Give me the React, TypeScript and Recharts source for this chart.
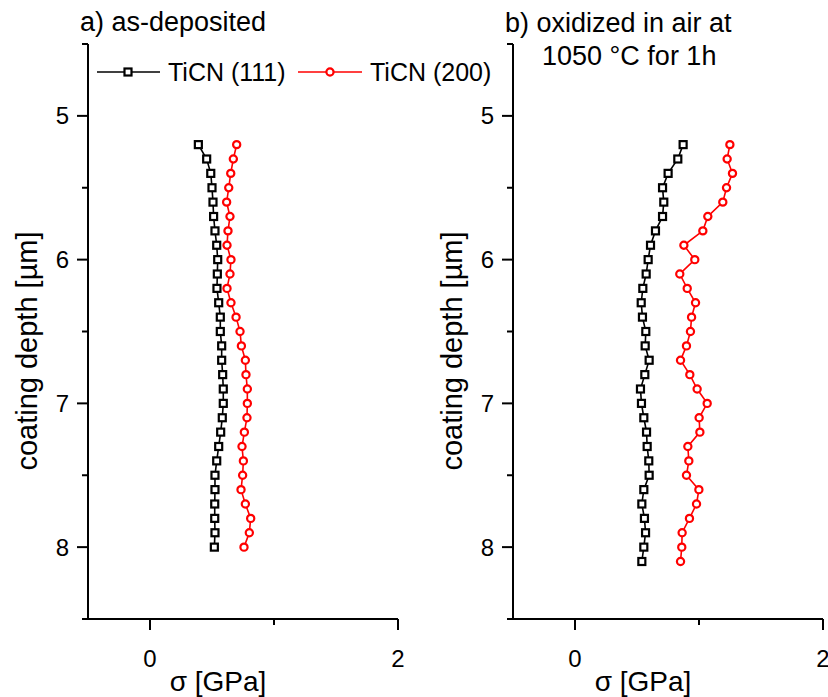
import React from 'react';
import { ScatterChart, Scatter, XAxis, YAxis, Legend } from 'recharts';

const FONT = '"Liberation Sans", Arial, Helvetica, sans-serif';

// depth [µm] (as-deposited)
const depthA = [5.2, 5.3, 5.4, 5.5, 5.6, 5.7, 5.8, 5.9, 6.0, 6.1, 6.2, 6.3, 6.4, 6.5, 6.6, 6.7, 6.8, 6.9, 7.0, 7.1, 7.2, 7.3, 7.4, 7.5, 7.6, 7.7, 7.8, 7.9, 8.0];
const a111 = [0.39, 0.457, 0.49, 0.5, 0.508, 0.513, 0.524, 0.538, 0.546, 0.543, 0.54, 0.554, 0.567, 0.567, 0.578, 0.578, 0.586, 0.591, 0.591, 0.583, 0.57, 0.554, 0.538, 0.524, 0.524, 0.522, 0.522, 0.524, 0.519];
const a200 = [0.699, 0.672, 0.651, 0.635, 0.618, 0.645, 0.629, 0.621, 0.653, 0.645, 0.621, 0.653, 0.694, 0.726, 0.737, 0.769, 0.774, 0.785, 0.785, 0.782, 0.761, 0.742, 0.753, 0.747, 0.734, 0.769, 0.812, 0.801, 0.758];

// depth [µm] (oxidized)
const depthB = [5.2, 5.3, 5.4, 5.5, 5.6, 5.7, 5.8, 5.9, 6.0, 6.1, 6.2, 6.3, 6.4, 6.5, 6.6, 6.7, 6.8, 6.9, 7.0, 7.1, 7.2, 7.3, 7.4, 7.5, 7.6, 7.7, 7.8, 7.9, 8.0, 8.1];
const b111 = [0.872, 0.829, 0.751, 0.706, 0.716, 0.706, 0.649, 0.609, 0.59, 0.574, 0.547, 0.534, 0.544, 0.571, 0.566, 0.598, 0.563, 0.528, 0.536, 0.555, 0.577, 0.582, 0.595, 0.598, 0.555, 0.539, 0.56, 0.569, 0.555, 0.539];
const b200 = [1.249, 1.227, 1.27, 1.222, 1.192, 1.071, 1.031, 0.878, 0.966, 0.845, 0.905, 0.972, 0.94, 0.931, 0.899, 0.851, 0.926, 0.985, 1.066, 1.001, 1.007, 0.91, 0.918, 0.899, 0.999, 0.98, 0.923, 0.864, 0.861, 0.851];

const yTicks = [4.5, 5, 5.5, 6, 6.5, 7, 7.5, 8, 8.5];
const yMajor = [5, 6, 7, 8];
const xTicks = [0, 1, 2];
const xMajor = [0, 2];
const seriesNames = ['TiCN (111)', 'TiCN (200)'];
const titleA = 'a) as-deposited';
const titleB1 = 'b) oxidized in air at';
const titleB2 = '1050 °C for 1h';
const xTitle = 'σ [GPa]';
const yTitle = 'coating depth [µm]';

const toPoints = (depth: number[], vals: number[]) => depth.map((d, i) => ({ x: vals[i], y: d }));

const SquareShape = (p: any) => (
  <rect x={p.cx - 3.5} y={p.cy - 3.5} width={7} height={7} fill="#fff" stroke="#000" strokeWidth={2.2} />
);
const CircleShape = (p: any) => (
  <circle cx={p.cx} cy={p.cy} r={3.6} fill="#fff" stroke="#ff0000" strokeWidth={2.2} />
);

const YTick = (props: any) => {
  const { x, y, payload } = props;
  const major = yMajor.includes(payload.value);
  return (
    <g>
      <line x1={x} x2={x - (major ? 11 : 6)} y1={y} y2={y} stroke="#000" strokeWidth={2} />
      {major && (
        <text x={x - 19} y={y} dy={8.5} textAnchor="end" fontSize={24} fontFamily={FONT} fill="#000">
          {payload.value}
        </text>
      )}
    </g>
  );
};

const XTick = (props: any) => {
  const { x, y, payload } = props;
  const major = xMajor.includes(payload.value);
  return (
    <g>
      <line x1={x} x2={x} y1={y} y2={y + (major ? 11 : 6)} stroke="#000" strokeWidth={2} />
      {major && (
        <text x={x} y={y} dy={48} textAnchor="middle" fontSize={24} fontFamily={FONT} fill="#000">
          {payload.value}
        </text>
      )}
    </g>
  );
};

const LegendContent = (props: any) => {
  const payload = props.payload || [];
  const n1 = payload[0]?.value ?? seriesNames[0];
  const n2 = payload[1]?.value ?? seriesNames[1];
  return (
    <svg width={400} height={30} style={{ display: 'block', overflow: 'visible' }}>
      <line x1={7} x2={70} y1={15} y2={15} stroke="#000" strokeWidth={1.6} />
      <rect x={38 - 3.5} y={15 - 3.5} width={7} height={7} fill="#fff" stroke="#000" strokeWidth={2.2} />
      <text x={78} y={24} fontSize={25} fontFamily={FONT} fill="#000">{n1}</text>
      <line x1={208} x2={272} y1={15} y2={15} stroke="#ff0000" strokeWidth={1.6} />
      <circle cx={240} cy={15} r={3.6} fill="#fff" stroke="#ff0000" strokeWidth={2.2} />
      <text x={280} y={24} fontSize={25} fontFamily={FONT} fill="#000">{n2}</text>
    </svg>
  );
};

const Panel = ({ depth, v111, v200, width, right, legend }: any) => (
  <ScatterChart width={width} height={697} margin={{ top: 44, right, bottom: 0, left: 0 }}>
    <XAxis
      type="number"
      dataKey="x"
      domain={[-0.5, 2]}
      ticks={xTicks}
      interval={0}
      allowDataOverflow
      height={78}
      tickSize={0}
      tickMargin={0}
      tickLine={false}
      axisLine={{ stroke: '#000', strokeWidth: 2 }}
      tick={<XTick />}
      label={() => (
        <text x={218} y={691} textAnchor="middle" fontSize={28} fontFamily={FONT} fill="#000">
          {xTitle}
        </text>
      )}
    />
    <YAxis
      type="number"
      dataKey="y"
      domain={[4.5, 8.5]}
      reversed
      ticks={yTicks}
      interval={0}
      allowDataOverflow
      width={88}
      tickSize={0}
      tickMargin={0}
      tickLine={false}
      axisLine={{ stroke: '#000', strokeWidth: 2 }}
      tick={<YTick />}
      label={() => (
        <text
          x={37}
          y={351}
          transform="rotate(-90 37 351)"
          textAnchor="middle"
          fontSize={29}
          fontFamily={FONT}
          fill="#000"
        >
          {yTitle}
        </text>
      )}
    />
    {legend && (
      <Legend
        layout="horizontal"
        align="center"
        verticalAlign="middle"
        wrapperStyle={{ left: 90, top: 57, width: 400, height: 30 }}
        content={<LegendContent />}
      />
    )}
    <Scatter
      name={seriesNames[0]}
      data={toPoints(depth, v111)}
      fill="#000"
      line={{ stroke: '#000', strokeWidth: 1.6 }}
      shape={SquareShape}
      isAnimationActive={false}
    />
    <Scatter
      name={seriesNames[1]}
      data={toPoints(depth, v200)}
      fill="#ff0000"
      line={{ stroke: '#ff0000', strokeWidth: 1.6 }}
      shape={CircleShape}
      isAnimationActive={false}
    />
  </ScatterChart>
);

export default function App() {
  return (
    <div style={{ position: 'absolute', left: 0, top: 0, width: 828, height: 697, overflow: 'hidden', background: '#fff', fontFamily: FONT }}>
      <div style={{ position: 'absolute', left: 0, top: 0 }}>
        <Panel depth={depthA} v111={a111} v200={a200} width={410} right={12} legend />
      </div>
      <div style={{ position: 'absolute', left: 425, top: 0 }}>
        <Panel depth={depthB} v111={b111} v200={b200} width={403} right={5} legend={false} />
      </div>
      <svg width={828} height={697} style={{ position: 'absolute', left: 0, top: 0, pointerEvents: 'none' }}>
        <text x={80} y={31} fontSize={27} fontFamily={FONT} fill="#000">{titleA}</text>
        <text x={505} y={32} fontSize={27} fontFamily={FONT} fill="#000">{titleB1}</text>
        <text x={542} y={65} fontSize={27} fontFamily={FONT} fill="#000">{titleB2}</text>
      </svg>
    </div>
  );
}
